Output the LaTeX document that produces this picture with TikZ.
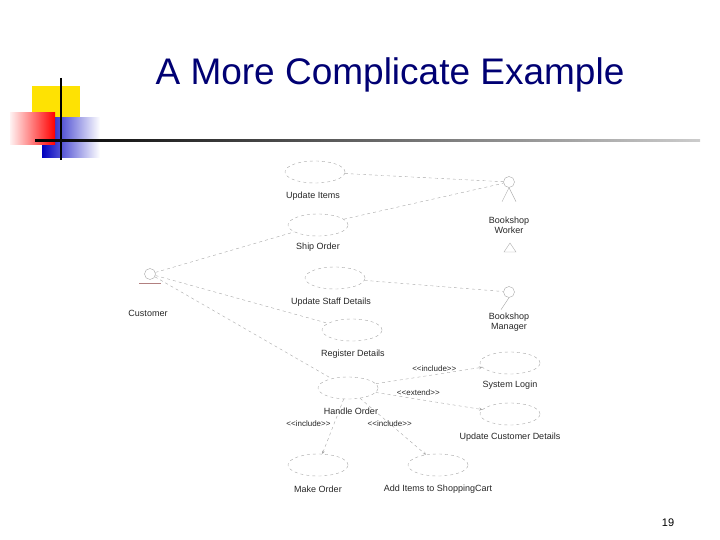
\documentclass[tikz,border=0pt]{standalone}
\usepackage{fontspec}
\setmainfont{Liberation Sans}
\usetikzlibrary{shapes,arrows,positioning,calc}
\newcommand{\stereotype}[1]{\mbox{<}\mbox{<}#1\mbox{>}\mbox{>}}

\begin{document}
\begin{tikzpicture}[
    x=1pt, y=-1pt,
    usecase/.style={ellipse, draw=black!35, dashed, minimum width=60pt, minimum height=22pt, inner sep=0pt},
    uclabel/.style={font=\fontsize{9}{10}\selectfont, text=black!85, align=center},
    assoc/.style={draw=black!35, dashed, thin},
    dep/.style={draw=black!35, dashed, thin, ->, >=stealth},
    stereo/.style={font=\fontsize{8}{9}\selectfont, text=black!85}
]
\useasboundingbox (0,0) rectangle (720,540);

% Logo
\fill[yellow!85!orange] (32,86) rectangle (80,120);
\shade[left color=blue!75!black, right color=white] (42,118) rectangle (100,158);
\shade[left color=red!5, right color=red] (10,113) rectangle (55,145);
\draw[line width=1.5pt] (61,78) -- (61,160);
\shade[left color=black, right color=black!20] (35,140) rectangle (700,142);

% Title
\node[font=\fontsize{37}{42}\selectfont, text=blue!45!black] (title) at (390,75) {A More Complicate Example};

% Use cases
\node[usecase] (items) at (315,172) {};
\node[uclabel] (itemsl) at (313,196) {Update Items};
\node[usecase] (ship) at (318,225) {};
\node[uclabel] (shipl) at (318,247) {Ship Order};
\node[usecase] (staff) at (335,278) {};
\node[uclabel] (staffl) at (331,302) {Update Staff Details};
\node[usecase] (reg) at (352,330) {};
\node[uclabel] (regl) at (353,354) {Register Details};
\node[usecase] (handle) at (348,388) {};
\node[uclabel] (handlel) at (351,411) {Handle Order};
\node[usecase] (login) at (510,363) {};
\node[uclabel] (loginl) at (510,385) {System Login};
\node[usecase] (cust) at (510,414) {};
\node[uclabel] (custl) at (510,437) {Update Customer Details};
\node[usecase] (make) at (318,465) {};
\node[uclabel] (makel) at (318,489) {Make Order};
\node[usecase] (add) at (438,465) {};
\node[uclabel] (addl) at (438,489) {Add Items to ShoppingCart};

% Actors
\node[circle, draw=black!35, minimum size=11pt, inner sep=0pt] (worker) at (509,182) {};
\draw[black!35] (worker.south) -- ++(-7,14) (worker.south) -- ++(7,14);
\node[uclabel] (workerl) at (509,225) {Bookshop\\Worker};
\node[circle, draw=black!35, minimum size=11pt, inner sep=0pt] (manager) at (509,292) {};
\draw[black!35] (manager.south) -- ++(-8,12);
\node[uclabel] (managerl) at (509,322) {Bookshop\\Manager};
\node[circle, draw=black!35, minimum size=11pt, inner sep=0pt] (customer) at (150,274) {};
\draw[red!40!black!50] (139,283) -- (161,283);
\node[uclabel] (customerl) at (148,313) {Customer};
\draw[black!35] (504,252) -- (510,243) -- (516,252) -- cycle;

% Associations
\draw[assoc] (items) -- (worker);
\draw[assoc] (ship) -- (worker);
\draw[assoc] (staff) -- (manager);
\draw[assoc] (customer) -- (ship);
\draw[assoc] (customer) -- (reg);
\draw[assoc] (customer) -- (handle);

% Dependencies
\draw[dep] (handle) -- node[stereo, above, pos=0.55] {\stereotype{include}} (login);
\draw[dep] (handle) -- node[stereo, above, pos=0.4] {\stereotype{extend}} (cust);
\draw[dep] (handle) -- node[stereo, left, pos=0.45] {\stereotype{include}} (make);
\draw[dep] (handle) -- node[stereo, pos=0.45] {\stereotype{include}} (add);

% Page number
\node[font=\fontsize{11}{12}\selectfont] (page) at (668,523) {19};
\end{tikzpicture}
\end{document}
